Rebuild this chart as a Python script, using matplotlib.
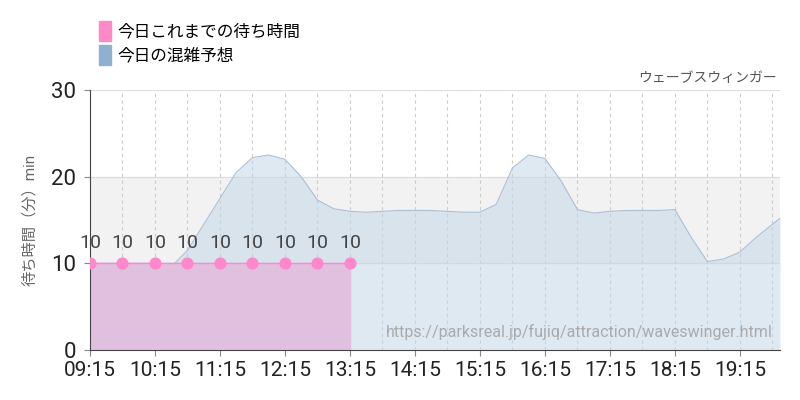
import matplotlib
matplotlib.use("Agg")
import matplotlib.pyplot as plt
from matplotlib.patches import Patch

plt.rcParams['font.family'] = ['Roboto', 'Noto Sans CJK JP', 'DejaVu Sans']

fc_times = ["09:15","09:30","09:45","10:00","10:15","10:30","10:45","11:00","11:15","11:30","11:45","12:00",
            "12:15","12:30","12:45","13:00","13:15","13:30","13:45","14:00","14:15","14:30","14:45","15:00",
            "15:15","15:30","15:45","16:00","16:15","16:30","16:45","17:00","17:15","17:30","17:45","18:00",
            "18:15","18:30","18:45","19:00","19:15","19:30","19:45","19:52"]
fc_values = [10,10,10,10,10,9.6,11.5,14.5,17.5,20.5,22.2,22.5,22,20,17.3,16.3,16,15.9,16,16.1,16.1,16.1,16,15.9,
             15.9,16.8,21,22.5,22.1,19.5,16.2,15.8,16,16.1,16.1,16.1,16.2,13,10.2,10.5,11.3,13,14.5,15.2]
act_times = ["09:15","09:45","10:15","10:45","11:15","11:45","12:15","12:45","13:15"]
act_values = [10,10,10,10,10,10,10,10,10]
tick_labels = ["09:15","10:15","11:15","12:15","13:15","14:15","15:15","16:15","17:15","18:15","19:15"]

def tm(s):
    h, m = s.split(":")
    return int(h) * 60 + int(m)

fx = [tm(t) for t in fc_times]
ax_ = [tm(t) for t in act_times]

fig = plt.figure(figsize=(8, 4), dpi=100)
ax = fig.add_axes([0.1125, 0.125, 0.8625, 0.65])
x0, x1 = tm("09:15"), tm("19:52")
ax.set_xlim(x0, x1)
ax.set_ylim(0, 30)
ax.axhspan(10, 20, color='#f2f2f2', zorder=0)
for y in (10, 20, 30):
    ax.axhline(y, color='#dddddd', lw=0.8, zorder=0.5)
for m in range(x0 + 30, x1, 30):
    ax.axvline(m, color='#cccccc', lw=0.8, ls=(0, (3, 3)), zorder=0.5)

ax.fill_between(fx, fc_values, color='#c5d7e8', alpha=0.55, lw=0, zorder=1)
ax.plot(fx, fc_values, color='#a9c0d6', lw=0.8, zorder=1.5)
ax.fill_between(ax_, act_values, color='#e0bfdf', zorder=2)
ax.plot(ax_, act_values, color='#ff88cc', lw=1, zorder=3)
ax.scatter(ax_, act_values, s=60, color='#ff88cc', zorder=4)
for x, v in zip(ax_, act_values):
    ax.text(x, v + 1.3, f"{v}", ha='center', va='bottom', fontsize=14, color='#444444')

ax.set_xticks([tm(t) for t in tick_labels])
ax.set_xticklabels(tick_labels, fontsize=15, color='#222222')
ax.set_yticks([0, 10, 20, 30])
ax.set_yticklabels(["0", "10", "20", "30"], fontsize=16, color='#222222')
ax.tick_params(axis='x', length=4, color='#888888', pad=4)
ax.tick_params(axis='y', length=4, color='#888888', pad=6)
for s in ('top', 'right'):
    ax.spines[s].set_visible(False)
ax.spines['left'].set_color('#444444')
ax.spines['bottom'].set_color('#444444')
ax.set_ylabel("待ち時間（分）min", fontsize=11, color='#666666', labelpad=10)

ax.text(0.995, 1.02, "ウェーブスウィンガー", transform=ax.transAxes, ha='right', va='bottom', fontsize=10, color='#555555')
ax.text(0.99, 0.04, "https://parksreal.jp/fujiq/attraction/waveswinger.html", transform=ax.transAxes,
        ha='right', va='bottom', fontsize=11.5, color='#aaaaaa')

handles = [Patch(color='#ff88c8'), Patch(color='#8fb0d0')]
fig.legend(handles, ["今日これまでの待ち時間", "今日の混雑予想"], loc='upper left', bbox_to_anchor=(0.105, 0.985),
           frameon=False, fontsize=12, handlelength=0.7, handleheight=1.5, handletextpad=0.4, labelspacing=0.2)

fig.savefig("out.png", dpi=100)
